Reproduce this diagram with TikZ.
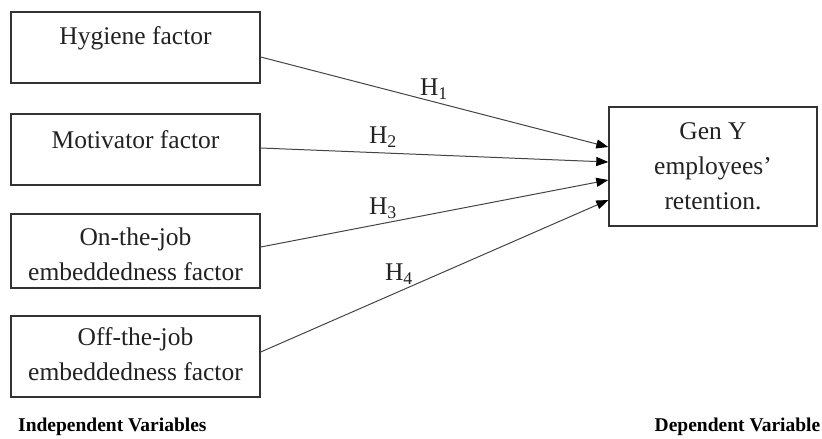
\documentclass[tikz,border=0pt]{standalone}
\usepackage{fontspec}
\setmainfont{Liberation Serif}
\usetikzlibrary{arrows.meta}
\definecolor{boxline}{HTML}{333333}
\definecolor{arrowline}{HTML}{444444}
\definecolor{txt}{HTML}{222222}
\tikzset{
  varbox/.style={draw=boxline, line width=1.4pt, rectangle, inner sep=0pt},
  boxtext/.style={text=txt, align=center, inner sep=0pt, font=\fontsize{25.5}{35}\selectfont},
  hlabel/.style={text=txt, inner sep=0pt, font=\fontsize{25.5}{30}\selectfont},
  footlabel/.style={text=black, inner sep=0pt, font=\fontsize{19.5}{22}\selectfont\bfseries},
  link/.style={draw=arrowline, line width=1pt, -{Triangle[length=12pt,width=9pt,color=black,fill=black]}}
}
\begin{document}
\begin{tikzpicture}[x=1pt,y=-1pt]
\useasboundingbox (0,0) rectangle (822,439);
% independent variable boxes
\node[varbox, minimum width=249pt, minimum height=71pt] (b1) at (135.5,47.5) {};
\node[boxtext] (t1) at (135.5,38) {Hygiene factor};
\node[varbox, minimum width=249pt, minimum height=71pt] (b2) at (135.5,149.5) {};
\node[boxtext] (t2) at (135.5,140) {Motivator factor};
\node[varbox, minimum width=249pt, minimum height=74pt] (b3) at (135.5,251) {};
\node[boxtext] (t3) at (135.5,254) {On-the-job\\embeddedness factor};
\node[varbox, minimum width=249pt, minimum height=81pt] (b4) at (135.5,356.5) {};
\node[boxtext] (t4) at (135.5,354.5) {Off-the-job\\embeddedness factor};
% dependent variable box
\node[varbox, minimum width=208pt, minimum height=119pt] (dv) at (713,166.5) {};
\node[boxtext] (tdv) at (713,166.5) {Gen Y\\employees’\\retention.};
% connectors
\draw[link] ([yshift=-9.5pt]b1.east) -- ([yshift=19.5pt]dv.west);
\draw[link] ([yshift=1.5pt]b2.east) -- ([yshift=4.5pt]dv.west);
\draw[link] ([yshift=4pt]b3.east) -- ([yshift=-13.5pt]dv.west);
\draw[link] ([yshift=4.5pt]b4.east) -- ([yshift=-33.5pt]dv.west);
% hypothesis labels
\node[hlabel] (h1) at (434,89) {H\textsubscript{1}};
\node[hlabel] (h2) at (383,137) {H\textsubscript{2}};
\node[hlabel] (h3) at (383,208) {H\textsubscript{3}};
\node[hlabel] (h4) at (399,274) {H\textsubscript{4}};
% footer labels
\node[footlabel, anchor=west] (iv) at (18,427) {Independent Variables};
\node[footlabel, anchor=east] (dvl) at (820.5,427) {Dependent Variable};
\end{tikzpicture}
\end{document}
